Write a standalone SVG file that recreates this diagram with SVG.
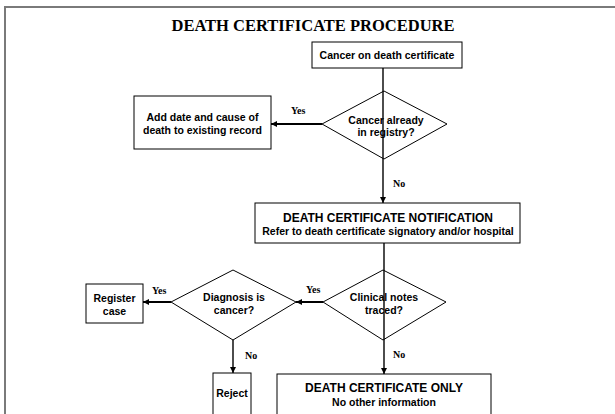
<svg xmlns="http://www.w3.org/2000/svg" width="615" height="414" viewBox="0 0 615 414">
<style>
.box{fill:#fff;stroke:#000;stroke-width:1}
.dia{fill:#fff;stroke:#000;stroke-width:1}
.t{font-family:"Liberation Sans",Arial,sans-serif;font-weight:bold;font-size:10.5px;fill:#000;text-anchor:middle}
.big{font-size:12px}
.lbl{font-family:"Liberation Serif","Times New Roman",serif;font-weight:bold;font-size:10px;fill:#000}
.title{font-family:"Liberation Serif","Times New Roman",serif;font-weight:bold;font-size:16.5px;fill:#000;text-anchor:middle}
.c{fill:none;stroke:#000;stroke-width:1.4}
.cy{fill:none;stroke:#000;stroke-width:2}
</style>
<defs>
<marker id="ah" markerUnits="userSpaceOnUse" markerWidth="7" markerHeight="7" refX="6" refY="3" orient="auto">
<path d="M0,0 L6,3 L0,6 z" fill="#000"/>
</marker>
</defs>
<rect width="615" height="414" fill="#fff"/>
<path d="M5,414 L5,7 L615,7" fill="none" stroke="#7a7a7a" stroke-width="2"/>
<text class="title" x="313" y="31">DEATH CERTIFICATE PROCEDURE</text>

<g id="start">
<rect class="box" x="312" y="42" width="150" height="26"/>
<text class="t" x="387" y="59">Cancer on death certificate</text>
</g>
<g id="addDate">
<rect class="box" x="134" y="96" width="137" height="53"/>
<text class="t" x="202.5" y="121">Add date and cause of</text>
<text class="t" x="202.5" y="134">death to existing record</text>
</g>
<g id="notification">
<rect class="box" x="255" y="203" width="265" height="40"/>
<text class="t big" x="388" y="222">DEATH CERTIFICATE NOTIFICATION</text>
<text class="t" x="388" y="235">Refer to death certificate signatory and/or hospital</text>
</g>
<g id="register">
<rect class="box" x="86" y="284" width="57" height="39"/>
<text class="t" x="114.5" y="302">Register</text>
<text class="t" x="114.5" y="315">case</text>
</g>
<g id="reject">
<rect class="box" x="213" y="373" width="38" height="50"/>
<text class="t" x="232" y="397">Reject</text>
</g>
<g id="dco">
<rect class="box" x="277" y="374" width="214" height="50"/>
<text class="t big" x="384" y="392">DEATH CERTIFICATE ONLY</text>
<text class="t" x="384" y="406">No other information</text>
</g>
<g id="inRegistry">
<polygon class="dia" points="384,91 447,124 384,159 322,124"/>
<text class="t" x="386" y="124">Cancer already</text>
<text class="t" x="386" y="136">in registry?</text>
</g>
<g id="clinicalNotes">
<polygon class="dia" points="383,270 446,302 383,340 323,302"/>
<text class="t" x="384" y="301">Clinical notes</text>
<text class="t" x="384" y="314">traced?</text>
</g>
<g id="diagnosis">
<polygon class="dia" points="233,270 296,302 233,340 171,302"/>
<text class="t" x="234" y="301">Diagnosis is</text>
<text class="t" x="234" y="314">cancer?</text>
</g>

<g id="connectors">
<line class="c" x1="383" y1="68" x2="383" y2="203" marker-end="url(#ah)"/>
<line class="cy" x1="322" y1="124" x2="271" y2="124" marker-end="url(#ah)"/>
<line class="c" x1="384" y1="243" x2="384" y2="374" marker-end="url(#ah)"/>
<line class="cy" x1="323" y1="302" x2="296" y2="302" marker-end="url(#ah)"/>
<line class="cy" x1="171" y1="302" x2="143" y2="302" marker-end="url(#ah)"/>
<line class="c" x1="233" y1="340" x2="233" y2="373" marker-end="url(#ah)"/>
<text class="lbl" x="291" y="114">Yes</text>
<text class="lbl" x="393" y="187">No</text>
<text class="lbl" x="306" y="293">Yes</text>
<text class="lbl" x="152" y="294">Yes</text>
<text class="lbl" x="245" y="359">No</text>
<text class="lbl" x="393" y="358">No</text>
</g>
</svg>
